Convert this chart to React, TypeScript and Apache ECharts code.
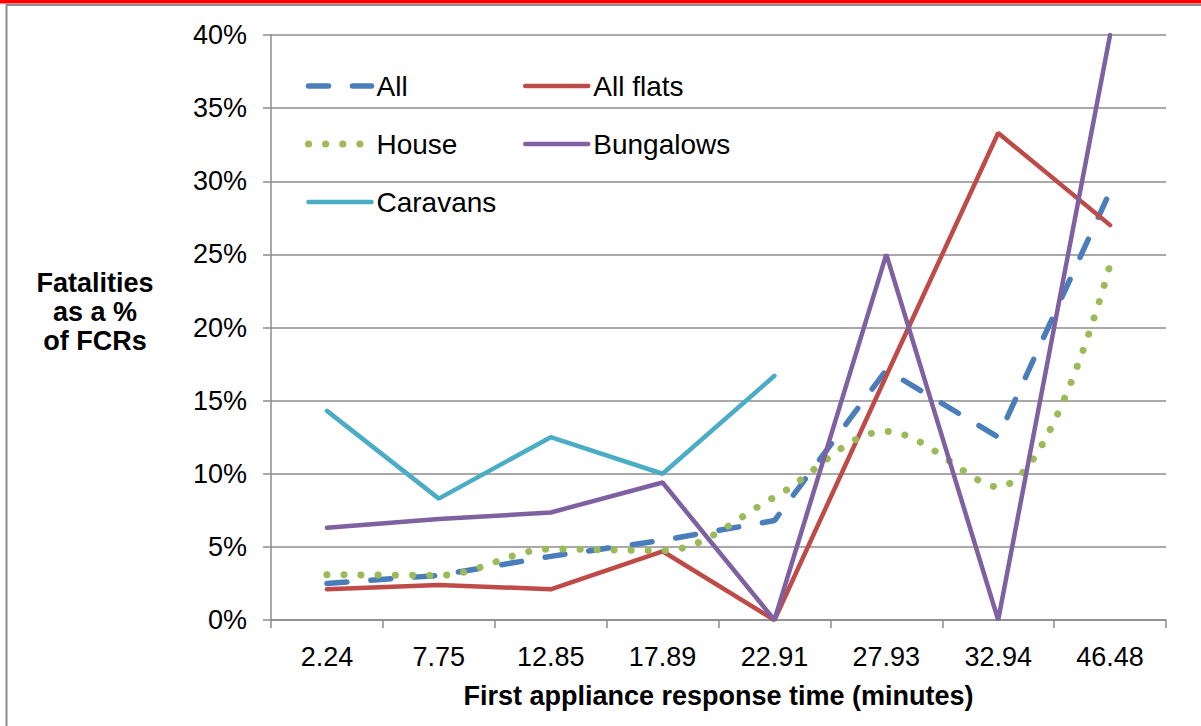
import React, { useEffect, useRef } from "react";
import * as echarts from "echarts";

const categories = ["2.24", "7.75", "12.85", "17.89", "22.91", "27.93", "32.94", "46.48"];
const allValues = [2.5, 3.05, 4.35, 5.45, 6.8, 17.1, 12.5, 29.3];
const allFlats = [2.1, 2.4, 2.1, 4.7, 0, 16.7, 33.3, 27.0];
const house = [3.1, 3.05, 4.85, 4.75, 8.4, 12.9, 9.1, 24.3];
const bungalows = [6.3, 6.9, 7.35, 9.4, 0, 25.0, 0, 40.0];
const caravans: (number | null)[] = [14.3, 8.3, 12.5, 10.0, 16.7, null, null, null];
const yTicks = { min: 0, max: 40, interval: 5 };

const FONT = "'Liberation Sans', Arial, sans-serif";

const styles: Record<string, any> = {
  All: { width: 5.5, type: [20, 24], cap: "round", color: "#4A7EBB" },
  "All flats": { width: 4.5, type: "solid", cap: "round", color: "#BE4B48" },
  House: { width: 7, type: [0.1, 17], cap: "round", color: "#9BBB59" },
  Bungalows: { width: 4.5, type: "solid", cap: "round", color: "#7F60A0" },
  Caravans: { width: 4.5, type: "solid", cap: "round", color: "#4BACC6" },
};

export default function App() {
  const ref = useRef<HTMLDivElement>(null);
  useEffect(() => {
    document.body.style.margin = "0";
    const chart = echarts.init(ref.current!, null, { renderer: "svg" });
    const textStyle = { fontFamily: FONT, fontSize: 27, color: "#000" };
    const legendItem = (name: string) => ({
      name,
      itemStyle: { opacity: 0, borderWidth: 0 },
      lineStyle: { ...styles[name] },
    });
    const legendBase = {
      orient: "vertical",
      top: 71,
      padding: 0,
      itemWidth: 63,
      itemHeight: 14,
      itemGap: 28,
      itemStyle: { opacity: 0, borderWidth: 0 },
      textStyle: { fontFamily: FONT, fontSize: 28, color: "#000", lineHeight: 30 },
    };
    const mkSeries = (name: string, data: any[], extra: any = {}) => ({
      name,
      type: "line",
      data,
      symbol: "none",
      color: styles[name].color,
      lineStyle: { ...styles[name] },
      ...extra,
    });
    chart.setOption({
      animation: false,
      backgroundColor: "#fff",
      textStyle: { fontFamily: FONT },
      grid: { left: 271, right: 35, top: 35, bottom: 106, containLabel: false },
      legend: [
        { ...legendBase, left: 305, data: ["All", "House", "Caravans"].map(legendItem) },
        { ...legendBase, left: 523, data: ["All flats", "Bungalows"].map(legendItem) },
      ],
      xAxis: {
        type: "category",
        data: categories,
        boundaryGap: true,
        name: "First appliance response time (minutes)",
        nameLocation: "middle",
        nameGap: 62,
        nameTextStyle: { fontFamily: FONT, fontSize: 27, fontWeight: "bold", color: "#000" },
        axisLine: { show: true, lineStyle: { color: "#8c8c8c", width: 1.5 } },
        axisTick: { show: true, interval: 0, length: 8, lineStyle: { color: "#8c8c8c", width: 1.5 } },
        axisLabel: { ...textStyle, interval: 0, margin: 23 },
        splitLine: { show: false },
      },
      yAxis: {
        type: "value",
        min: yTicks.min,
        max: yTicks.max,
        interval: yTicks.interval,
        axisLine: { show: true, lineStyle: { color: "#8c8c8c", width: 1.5 } },
        axisTick: { show: true, length: 8, lineStyle: { color: "#8c8c8c", width: 1.5 } },
        axisLabel: { ...textStyle, margin: 24, formatter: "{value}%" },
        splitLine: { show: true, lineStyle: { color: "#8c8c8c", width: 1.5 } },
      },
      graphic: [
        { type: "rect", left: 0, top: 0, shape: { width: 1201, height: 3.5 }, style: { fill: "#ff0000" } },
        { type: "line", shape: { x1: 6, y1: 5, x2: 1201, y2: 5 }, style: { stroke: "#8c8c8c", lineWidth: 2 } },
        { type: "line", shape: { x1: 6.5, y1: 4, x2: 6.5, y2: 726 }, style: { stroke: "#8c8c8c", lineWidth: 2 } },
        {
          type: "text",
          x: 95,
          y: 312,
          style: {
            text: "Fatalities\nas a %\nof FCRs",
            fontFamily: FONT,
            fontSize: 27,
            fontWeight: "bold",
            fill: "#000",
            align: "center",
            verticalAlign: "middle",
            lineHeight: 29,
          },
        },
      ],
      series: [
        mkSeries("All", allValues),
        mkSeries("All flats", allFlats),
        mkSeries("House", house, { smooth: 0.35 }),
        mkSeries("Bungalows", bungalows),
        mkSeries("Caravans", caravans, { connectNulls: false }),
      ],
    });
    return () => chart.dispose();
  }, []);
  return (
    <div
      ref={ref}
      style={{ position: "fixed", left: 0, top: 0, width: 1201, height: 726, background: "#fff" }}
    />
  );
}
